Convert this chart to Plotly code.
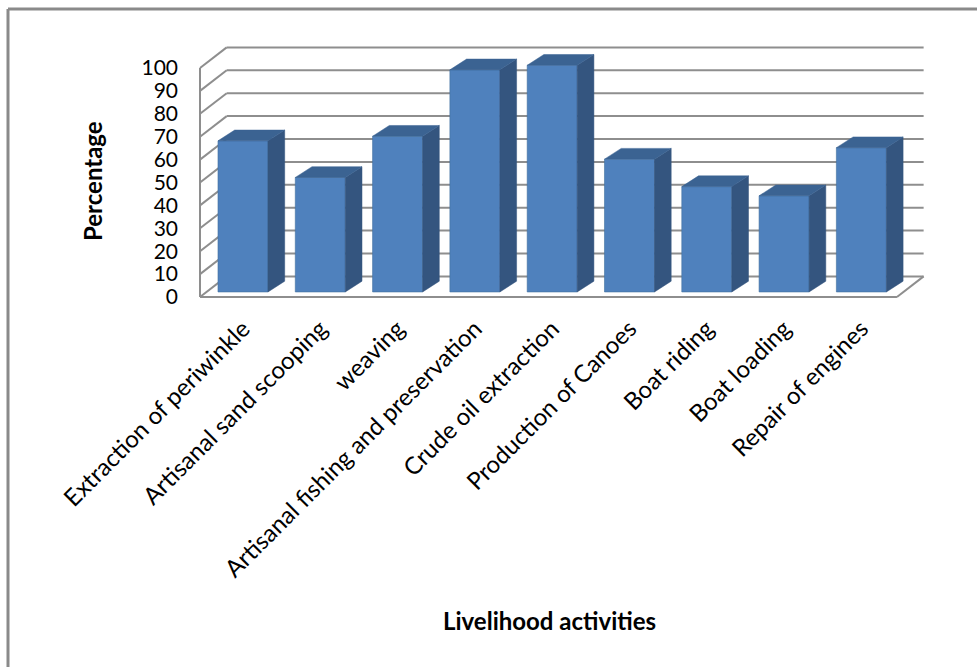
import plotly.graph_objects as go

# ---------------- data ----------------
categories = ["Extraction of periwinkle", "Artisanal sand scooping", "weaving",
              "Artisanal fishing and preservation", "Crude oil extraction",
              "Production of Canoes", "Boat riding", "Boat loading", "Repair of engines"]
values = [66, 50, 68, 97, 99, 58, 46, 42, 63]
y_ticks = list(range(0, 101, 10))
y_title = "Percentage"
x_title = "Livelihood activities"

# ---------------- geometry / style ----------------
W, H = 977, 667
ML, MR, MT, MB = 185, 37, 30, 362
PX0, PXS = 243.0, 77.3      # pixel of first category, pixels per category
PY0, PYS = 297.0, 2.29      # pixel of value 0 (floor front), pixels per unit

BAR_W = 0.647
BAR_BASE = 2.2
BAR_DX, BAR_DY = 0.216, 4.7
FLOOR_L, FLOOR_R = -0.556, 8.46
WALL_DX, WALL_DY = 0.345, 9.0

FRONT = "#4F81BD"
SIDE = "#34557F"
TOP = "#3B6392"
GRID = "#8E8E8E"
FONT = "Lato"

xr = [(ML - PX0) / PXS, (W - MR - PX0) / PXS]
yr = [(PY0 - (H - MB)) / PYS, (PY0 - MT) / PYS]
PW, PH = W - ML - MR, H - MT - MB


def paper_x(px):
    return (px - ML) / PW


def paper_y(py):
    return ((H - MB) - py) / PH


idx = list(range(len(categories)))

fig = go.Figure()

# front faces
fig.add_trace(go.Bar(x=idx, y=values, base=BAR_BASE, width=BAR_W,
                     marker=dict(color=FRONT, line=dict(color="#41709F", width=0.6)),
                     hoverinfo="skip", showlegend=False))

# side faces and top faces
sx, sy, tx, ty = [], [], [], []
for i, v in zip(idx, values):
    r = i + BAR_W / 2
    l = i - BAR_W / 2
    b = BAR_BASE
    t = BAR_BASE + v
    sx += [r, r + BAR_DX, r + BAR_DX, r, r, None]
    sy += [b, b + BAR_DY, t + BAR_DY, t, b, None]
    tx += [l, r, r + BAR_DX, l + BAR_DX, l, None]
    ty += [t, t, t + BAR_DY, t + BAR_DY, t, None]
fig.add_trace(go.Scatter(x=sx, y=sy, fill="toself", fillcolor=SIDE, mode="lines",
                         line=dict(color=SIDE, width=0.5), hoverinfo="skip", showlegend=False))
fig.add_trace(go.Scatter(x=tx, y=ty, fill="toself", fillcolor=TOP, mode="lines",
                         line=dict(color=TOP, width=0.5), hoverinfo="skip", showlegend=False))

# walls, floor and gridlines (below traces)
shapes = []
def seg(x0, y0, x1, y1, color=GRID, width=2):
    shapes.append(dict(type="line", xref="x", yref="y", x0=x0, y0=y0, x1=x1, y1=y1,
                       layer="below", line=dict(color=color, width=width)))

bl = FLOOR_L + WALL_DX
br = FLOOR_R + WALL_DX
for v in y_ticks:
    seg(FLOOR_L, v, bl, v + WALL_DY)
    seg(bl, v + WALL_DY, br, v + WALL_DY)
seg(FLOOR_L, 0, FLOOR_L, y_ticks[-1])
seg(FLOOR_L, 0, FLOOR_R, 0)
seg(FLOOR_R, 0, br, WALL_DY)

# outer border (left and top)
shapes.append(dict(type="line", xref="paper", yref="paper",
                   x0=paper_x(8), y0=paper_y(9), x1=paper_x(8), y1=paper_y(H + 5),
                   line=dict(color="#8A8A8A", width=3)))
shapes.append(dict(type="line", xref="paper", yref="paper",
                   x0=paper_x(8), y0=paper_y(9), x1=paper_x(W + 5), y1=paper_y(9),
                   line=dict(color="#8A8A8A", width=3)))

annotations = [
    dict(text=f"<b>{y_title}</b>", xref="paper", yref="paper", x=paper_x(92), y=paper_y(181),
         textangle=-90, showarrow=False, font=dict(family=FONT, size=24, color="black"),
         xanchor="center", yanchor="middle"),
    dict(text=f"<b>{x_title}</b>", xref="paper", yref="paper", x=paper_x(549), y=paper_y(620),
         showarrow=False, font=dict(family=FONT, size=24, color="black"),
         xanchor="center", yanchor="middle"),
]

fig.update_layout(
    width=W, height=H,
    margin=dict(l=ML, r=MR, t=MT, b=MB, pad=0),
    paper_bgcolor="white", plot_bgcolor="white",
    shapes=shapes, annotations=annotations,
    showlegend=False,
    xaxis=dict(range=xr, tickmode="array", tickvals=idx, ticktext=categories,
               tickangle=-45, showgrid=False, zeroline=False, showline=False, ticks="",
               tickfont=dict(family=FONT, size=24, color="black"), ticklabelstandoff=4),
    yaxis=dict(range=yr, tickmode="array", tickvals=y_ticks, showgrid=False,
               zeroline=False, showline=False, ticks="",
               tickfont=dict(family=FONT, size=21, color="black"), ticklabelstandoff=6),
)

fig.write_html("out.html")
